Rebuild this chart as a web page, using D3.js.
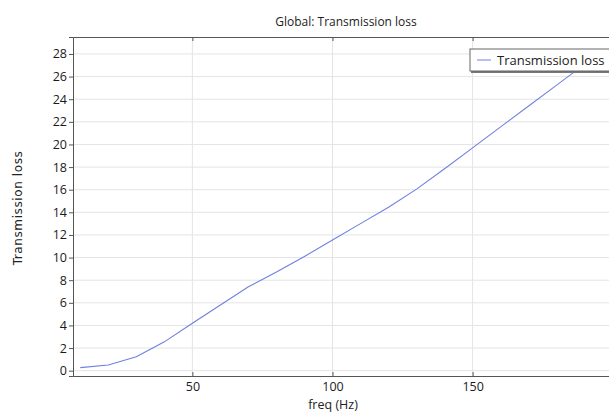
<!DOCTYPE html>
<html>
<head>
<meta charset="utf-8">
<script src="https://cdn.jsdelivr.net/npm/d3@7"></script>
<style>
	body { margin: 0; background: #fff; }
	text { font-family: "Open Sans", "Noto Sans", sans-serif; fill: #222; }
</style>
</head>
<body>
<svg id="chart"></svg>
<script>
// freq (Hz) and transmission loss
var freq = [10, 20, 30, 40, 50, 60, 70, 80, 90, 100, 110, 120, 130, 140, 150, 160, 170, 180, 190, 200];
var loss = [0.27, 0.5, 1.24, 2.55, 4.2, 5.8, 7.42, 8.72, 10.1, 11.55, 13.0, 14.45, 16.05, 17.85, 19.7, 21.55, 23.4, 25.25, 27.1, 28.6];
var xTicks = [50, 100, 150];
var yTicks = [0, 2, 4, 6, 8, 10, 12, 14, 16, 18, 20, 22, 24, 26, 28];

let w = 609;
let h = 412;
let mLeft = 73, mRight = 620, mTop = 37, mBottom = 376;

let chart = d3.select('#chart')
	.attr('width', w)
	.attr('height', h);

let x = d3.scaleLinear().domain([7.4, 202.6]).range([mLeft, mRight]);
let y = d3.scaleLinear().domain([-0.47, 29.5]).range([mBottom, mTop]);

// grid
chart.append('g')
	.selectAll('line')
	.data(yTicks)
	.enter()
	.append('line')
	.attr('x1', mLeft).attr('x2', mRight)
	.attr('y1', d => y(d)).attr('y2', d => y(d))
	.style('stroke', '#e4e4e4');

chart.append('g')
	.selectAll('line')
	.data(xTicks)
	.enter()
	.append('line')
	.attr('x1', d => x(d)).attr('x2', d => x(d))
	.attr('y1', mTop).attr('y2', mBottom)
	.style('stroke', '#e4e4e4');

// curve
chart.append('path')
	.datum(freq.map((f, i) => [f, loss[i]]))
	.attr('d', d3.line().x(d => x(d[0])).y(d => y(d[1])))
	.style('fill', 'none')
	.style('stroke', '#6f80e0')
	.style('stroke-width', 1.1);

// axes
let yAxis = chart.append('g')
	.attr('transform', `translate(${mLeft},0)`)
	.call(d3.axisLeft(y).tickValues(yTicks).tickSize(4).tickPadding(2));

let xAxis = chart.append('g')
	.attr('transform', `translate(0,${mBottom})`)
	.call(d3.axisBottom(x).tickValues(xTicks).tickSizeInner(-4).tickSizeOuter(0).tickPadding(6));

let xTop = chart.append('g')
	.attr('transform', `translate(0,${mTop})`)
	.call(d3.axisTop(x).tickValues(xTicks).tickSizeInner(-4).tickSizeOuter(0).tickFormat(''));

[yAxis, xAxis, xTop].forEach(a => {
	a.select('.domain').style('stroke', '#555');
	a.selectAll('.tick line').style('stroke', '#555');
	a.selectAll('.tick text')
		.style('font-size', '12.5px')
		.style('font-family', '"Open Sans", "Noto Sans", sans-serif')
		.style('fill', '#1a1a1a');
});

// title and labels
chart.append('text')
	.attr('x', 346)
	.attr('y', 26)
	.style('text-anchor', 'middle')
	.style('font-size', '12px')
	.text('Global: Transmission loss');

chart.append('text')
	.attr('x', 333)
	.attr('y', 409)
	.style('text-anchor', 'middle')
	.style('font-size', '12.5px')
	.text('freq (Hz)');

chart.append('text')
	.attr('transform', 'translate(22,208) rotate(-90)')
	.style('text-anchor', 'middle')
	.style('font-size', '12px')
	.style('letter-spacing', '0.6px')
	.style('font-family', '"DejaVu Sans", sans-serif')
	.text('Transmission loss');

// legend
let lg = chart.append('g').attr('transform', 'translate(470,49)');
lg.append('rect')
	.attr('x', 1).attr('y', 1)
	.attr('width', 150).attr('height', 23)
	.style('fill', '#777');
lg.append('rect')
	.attr('width', 150).attr('height', 22)
	.style('fill', '#fff')
	.style('stroke', '#666');
lg.append('line')
	.attr('x1', 7).attr('x2', 21)
	.attr('y1', 11).attr('y2', 11)
	.style('stroke', '#6f80e0');
lg.append('text')
	.attr('x', 27)
	.attr('y', 16)
	.style('font-size', '13px')
	.text('Transmission loss');
</script>
</body>
</html>
